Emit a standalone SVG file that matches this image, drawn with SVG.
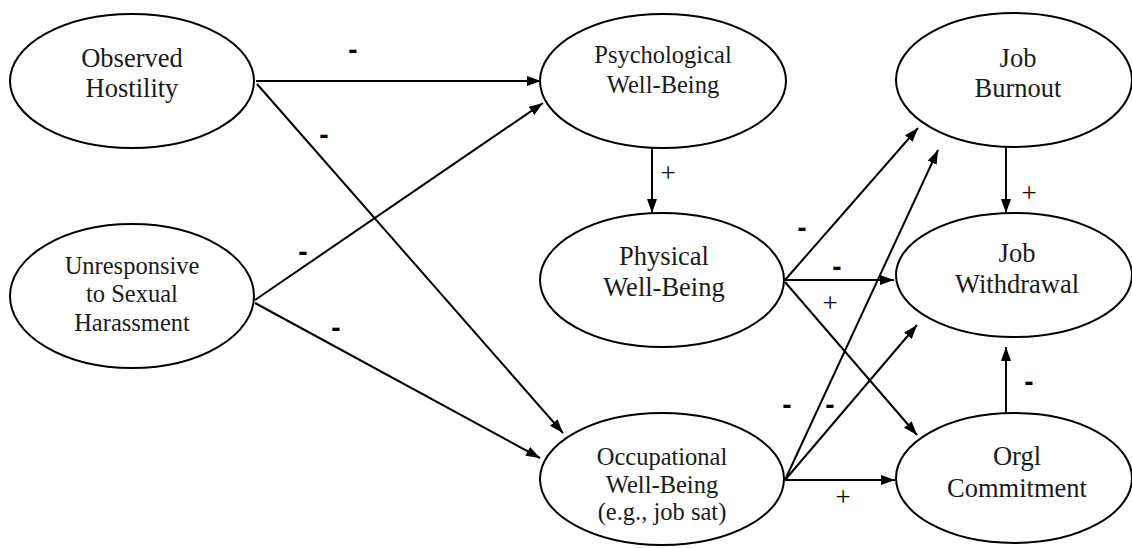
<svg xmlns="http://www.w3.org/2000/svg" width="1132" height="548" viewBox="0 0 1132 548">
<style>
.node ellipse{fill:#fff;stroke:#000;stroke-width:2}
.node text{font-family:"Liberation Serif","Times New Roman",serif;font-size:24.5px;fill:#1a1a1a;text-anchor:middle}
.node.big text{font-size:26.5px}
#edges line{stroke:#000;stroke-width:2;fill:none}
.arr{marker-end:url(#ah)}
.neg{font-family:"Liberation Sans",Arial,sans-serif;font-weight:bold;font-size:28px;fill:#000;text-anchor:middle}
.pos{font-family:"Liberation Serif","Times New Roman",serif;font-size:27px;fill:#000;text-anchor:middle}
</style>
<defs>
<marker id="ah" markerUnits="userSpaceOnUse" markerWidth="15" markerHeight="12" refX="14" refY="5" orient="auto">
<path d="M0,0 L14,5 L0,10 z" fill="#000"/>
</marker>
</defs>
<rect width="1132" height="548" fill="#fff"/>
<g id="edges">
<line class="arr" x1="256" y1="81" x2="541" y2="81"/>
<line class="arr" x1="257" y1="84" x2="563" y2="433"/>
<line class="arr" x1="255" y1="300" x2="543" y2="103"/>
<line class="arr" x1="255" y1="303" x2="540" y2="458"/>
<line class="arr" x1="652" y1="148" x2="652" y2="213"/>
<line class="arr" x1="785" y1="280" x2="918" y2="128"/>
<line class="arr" x1="785" y1="280" x2="894" y2="280"/>
<line class="arr" x1="785" y1="282" x2="917" y2="435"/>
<line class="arr" x1="785" y1="480" x2="938" y2="150"/>
<line class="arr" x1="785" y1="480" x2="917" y2="325"/>
<line class="arr" x1="785" y1="480" x2="895" y2="480"/>
<line class="arr" x1="1006" y1="147" x2="1006" y2="213"/>
<line class="arr" x1="1006" y1="413" x2="1006" y2="347"/>
<text class="neg" x="353" y="59">-</text>
<text class="neg" x="324" y="144">-</text>
<text class="neg" x="303" y="261">-</text>
<text class="neg" x="336" y="337">-</text>
<text class="neg" x="802" y="237">-</text>
<text class="neg" x="837" y="276">-</text>
<text class="neg" x="787" y="414">-</text>
<text class="neg" x="830" y="414">-</text>
<text class="neg" x="1029" y="391">-</text>
<text class="pos" x="668" y="182">+</text>
<text class="pos" x="1029" y="202">+</text>
<text class="pos" x="830" y="312">+</text>
<text class="pos" x="843" y="506">+</text>
</g>
<g id="observed" class="node big">
<ellipse cx="132" cy="81" rx="122" ry="67"/>
<text x="132" y="67">Observed</text>
<text x="132" y="97">Hostility</text>
</g>
<g id="unresponsive" class="node">
<ellipse cx="132" cy="296" rx="122" ry="72"/>
<text x="132" y="274">Unresponsive</text>
<text x="132" y="302">to Sexual</text>
<text x="132" y="331">Harassment</text>
</g>
<g id="psych" class="node">
<ellipse cx="663" cy="81" rx="123" ry="67"/>
<text x="663" y="63">Psychological</text>
<text x="663" y="93">Well-Being</text>
</g>
<g id="physical" class="node big">
<ellipse cx="662" cy="280" rx="122" ry="67"/>
<text x="664" y="265">Physical</text>
<text x="664" y="296">Well-Being</text>
</g>
<g id="occupational" class="node">
<ellipse cx="662" cy="479" rx="122" ry="66"/>
<text x="662" y="465">Occupational</text>
<text x="662" y="493">Well-Being</text>
<text x="662" y="520">(e.g., job sat)</text>
</g>
<g id="burnout" class="node big">
<ellipse cx="1014" cy="80" rx="118" ry="67"/>
<text x="1018" y="67">Job</text>
<text x="1018" y="97">Burnout</text>
</g>
<g id="withdrawal" class="node big">
<ellipse cx="1014" cy="275" rx="118" ry="62"/>
<text x="1017" y="262">Job</text>
<text x="1017" y="293">Withdrawal</text>
</g>
<g id="orgl" class="node big">
<ellipse cx="1014" cy="478" rx="118" ry="65"/>
<text x="1017" y="465">Orgl</text>
<text x="1017" y="497">Commitment</text>
</g>
</svg>
